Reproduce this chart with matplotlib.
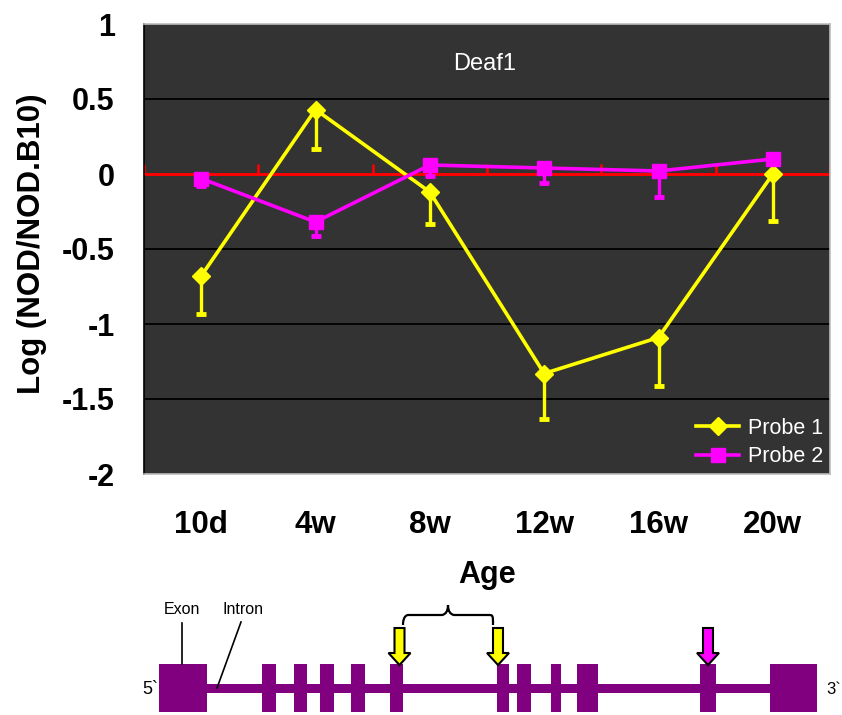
import numpy as np
import matplotlib.pyplot as plt
from matplotlib.patches import Rectangle, Polygon, PathPatch
from matplotlib.path import Path
from matplotlib.lines import Line2D

plt.rcParams['font.family'] = ['Liberation Sans', 'DejaVu Sans']

# log ratio NOD / NOD.B10 for each age, with lower error bars
ages = ['10d', '4w', '8w', '12w', '16w', '20w']
probe1 = [-0.68, 0.43, -0.12, -1.33, -1.09, 0.00]
probe1_err = [0.25, 0.26, 0.21, 0.30, 0.32, 0.31]
probe2 = [-0.03, -0.32, 0.06, 0.04, 0.02, 0.10]
probe2_err = [0.05, 0.09, 0.07, 0.10, 0.17, 0.02]

# gene model (pixel units across the figure)
exon_starts = [159, 262, 294, 320, 351, 390, 497, 517, 551, 577, 700, 770]
exon_ends = [207, 276, 307, 334, 365, 403, 509, 531, 561, 598, 716, 817]
probe_arrows = [(399.5, '#FFFF00'), (498, '#FFFF00'), (708, '#FF00FF')]

W, H = 842, 715
fig = plt.figure(figsize=(W / 100, H / 100), dpi=100)
ax = fig.add_axes([144 / W, 1 - 474 / H, 686 / W, 450 / H])
ax.set_facecolor('#333333')

x = np.arange(len(ages)) + 0.5
ax.set_xlim(0, len(ages))
ax.set_ylim(-2, 1)

for g in [0.5, -0.5, -1, -1.5]:
    ax.axhline(g, color='black', lw=1.3, zorder=1)

# category axis drawn through zero, with its ticks pointing up
ax.axhline(0, color='#FF0000', lw=2.1, zorder=2)
ax.vlines(np.arange(len(ages) + 1), 0, 0.07, color='#FF0000', lw=1.9, zorder=2)


def draw_series(y, err, color, marker, ms, z):
    y = np.asarray(y)
    low = y - np.asarray(err)
    # downward error bars only, with a short thick cap
    ax.vlines(x, low, y, color=color, lw=2.4, zorder=z)
    ax.plot(x, low, ls='none', marker='_', ms=7, mew=3.5, color=color, zorder=z)
    ax.plot(x, y, color=color, lw=2.6, marker=marker, ms=ms, zorder=z)


draw_series(probe1, probe1_err, '#FFFF00', 'D', 9.5, 3)
draw_series(probe2, probe2_err, '#FF00FF', 's', 10.5, 4)

ax.set_xticks(x)
ax.set_xticklabels(ages, fontsize=22.5, fontweight='bold')
ax.set_yticks([-2, -1.5, -1, -0.5, 0, 0.5, 1])
ax.set_yticklabels(['-2', '-1.5', '-1', '-0.5', '0', '0.5', '1'],
                   fontsize=22, fontweight='bold')
ax.tick_params(axis='x', length=0, pad=26)
ax.tick_params(axis='y', length=0, pad=21)

ax.set_xlabel('Age', fontsize=22, fontweight='bold')
ax.xaxis.set_label_coords(0.5, -0.19)
ax.set_ylabel('Log (NOD/NOD.B10)', fontsize=22.5, fontweight='bold')
ax.yaxis.set_label_coords(-0.141, 0.511)

ax.text(0.497, 0.911, 'Deaf1', transform=ax.transAxes, color='white',
        fontsize=17, ha='center', va='center')

ax.spines['left'].set_color('black')
for s in ['top', 'right', 'bottom']:
    ax.spines[s].set_color('#BBBBBB')
for s in ax.spines.values():
    s.set_linewidth(1.2)

handles = [Line2D([], [], color='#FFFF00', lw=2.6, marker='D', ms=9.5),
           Line2D([], [], color='#FF00FF', lw=2.6, marker='s', ms=10.5)]
ax.legend(handles, ['Probe 1', 'Probe 2'], loc='lower right',
          bbox_to_anchor=(0.99, 0.015), frameon=False, fontsize=15.5,
          labelcolor='white', handlelength=2.0, handletextpad=0.4,
          labelspacing=0.35, borderpad=0, borderaxespad=0)

# gene structure diagram underneath
gx = fig.add_axes([0, 0, 1, 1], zorder=-1)
gx.set_xlim(0, W)
gx.set_ylim(H, 0)
gx.axis('off')

purple = '#800080'
gx.add_patch(Rectangle((exon_ends[0], 684), exon_starts[-1] - exon_ends[0], 9,
                       color=purple, lw=0))
for s, e in zip(exon_starts, exon_ends):
    gx.add_patch(Rectangle((s, 664), e - s, 48, color=purple, lw=0))

for cx, col in probe_arrows:
    pts = [(cx - 5, 628), (cx + 5, 628), (cx + 5, 653), (cx + 11, 653),
           (cx, 665), (cx - 11, 653), (cx - 5, 653)]
    gx.add_patch(Polygon(pts, closed=True, facecolor=col, edgecolor='black',
                         lw=1.5, joinstyle='miter'))

# curly brace over the two Probe 1 sites
verts = [(403, 625), (403, 615), (408, 615), (408, 615),
         (442, 615), (448, 614), (448, 605),
         (448, 614), (454, 615), (488, 615),
         (493, 615), (493, 615), (493, 625)]
codes = [Path.MOVETO, Path.CURVE4, Path.CURVE4, Path.CURVE4,
         Path.LINETO, Path.CURVE3, Path.CURVE3,
         Path.CURVE3, Path.CURVE3, Path.LINETO,
         Path.CURVE4, Path.CURVE4, Path.CURVE4]
gx.add_patch(PathPatch(Path(verts, codes), facecolor='none', edgecolor='black',
                       lw=1.6))

gx.plot([182, 182], [623, 664], color='black', lw=1.2)
gx.plot([241, 217], [622, 688], color='black', lw=1.2)
gx.text(182, 610, 'Exon', fontsize=11.5, ha='center', va='center')
gx.text(243, 610, 'Intron', fontsize=11.5, ha='center', va='center')
gx.text(150, 690, '5`', fontsize=13, ha='center', va='center')
gx.text(826, 690, '3`', fontsize=12, ha='left', va='center')

fig.savefig('out.png', dpi=100, facecolor='white')
